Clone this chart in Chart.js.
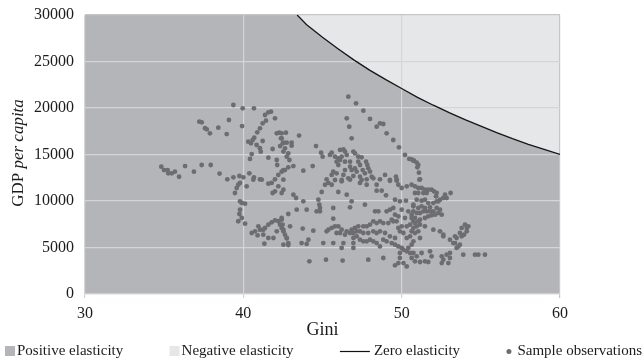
<!DOCTYPE html>
<html><head><meta charset="utf-8">
<script src="https://cdn.jsdelivr.net/npm/chart.js@4.4.0/dist/chart.umd.min.js"></script>
<style>html,body{margin:0;padding:0;background:#fff;overflow:hidden;}</style>
</head><body>
<canvas id="c" width="644" height="361" style="display:block;width:644px;height:361px"></canvas>
<script>
// ---- data ----
const xTickValues = [30, 40, 50, 60];
const xTickLabels = ['30', '40', '50', '60'];
const yTickValues = [0, 5000, 10000, 15000, 20000, 25000, 30000];
const yTickLabels = ['0', '5000', '10000', '15000', '20000', '25000', '30000'];
const legendLabels = ['Positive elasticity', 'Negative elasticity', 'Zero elasticity', 'Sample observations'];
const xTitle = 'Gini';
const yTitleParts = ['GDP ', 'per capita'];

// zero-elasticity boundary (Gini, GDP per capita)
const curveGini = [43.4, 44, 45, 46, 47, 48, 49, 50, 51, 52, 53, 54, 55, 56, 57, 58, 59, 60];
const curveGdp  = [30000, 28950, 27600, 26350, 25150, 24050, 23050, 22100, 21150, 20300, 19500, 18750, 18050, 17350, 16700, 16100, 15550, 15000];

// sample observations [Gini, GDP per capita]
const sampleObservations = [
[34.82,13690],[34.99,13330],[35.22,13330],[35.26,12980],[35.48,12980],[35.68,13150],[35.94,12610],[36.32,13760],
[36.88,13150],[37.37,13870],[37.94,13870],[38.50,12950],[37.22,18530],[37.37,18460],[37.58,17820],[37.69,17710],
[37.89,17280],[38.42,17880],[39.37,20320],[39.96,19970],[40.67,19970],[39.09,18710],[38.95,17200],[39.92,18060],
[41.37,19250],[41.58,19540],[41.75,19600],[42.00,18890],[41.43,18640],[41.22,18350],[41.05,17810],[40.88,17380],
[40.69,16810],[40.59,16560],[40.31,16380],[40.48,16200],[40.84,16020],[41.05,15670],[41.22,16450],[41.10,15300],
[40.53,15050],[40.42,14520],[41.58,14660],[41.85,15590],[42.11,17280],[42.27,17350],[42.38,16740],[42.49,16200],
[42.32,15910],[42.11,14410],[42.14,13870],
[38.99,12330],[39.37,12550],[39.75,12690],[40.00,12550],[40.38,12980],[40.67,12550],[41.05,12330],[42.00,12330],
[42.21,12800],[42.42,13150],[42.63,13330],
[39.47,10860],[39.58,11400],[39.68,11750],[39.79,11940],[40.21,11580],[39.79,9970],[39.90,9790],[40.11,9710],
[39.79,9070],[39.75,8600],[39.68,7820],[40.11,7560],[39.90,8170],[40.53,6560],[40.74,6740],[40.95,7280],
[41.05,6910],[41.26,6910],[41.37,7100],[41.58,7450],[41.79,7710],[42.00,7920],[42.21,7820],[42.32,7450],
[42.42,7100],[42.53,6740],[40.90,6310],[41.26,6380],[41.58,6020],[41.90,6020],[41.33,5410],[42.11,6740],
[42.42,8170],[40.63,12290],[41.16,12290],[41.58,11860],[41.79,11940],[42.21,11580],[42.00,11040],[41.85,10860],
[42.42,10860],[42.53,11220],[42.84,5270],[42.74,5990],
[44.74,10140],[44.80,9600],[44.84,9250],[44.84,8890],[44.63,8890],[44.00,9070],[43.37,9070],[42.84,8600],
[45.68,9250],[46.84,9960],[46.74,9320],[47.68,9600],[48.32,8890],[48.53,8890],[49.05,8890],[49.26,9070],
[49.47,9250],[49.58,8530],[49.79,8350],[49.68,7810],[49.47,7810],[49.37,7990],[49.16,7630],[48.84,7630],
[48.63,7810],[48.42,7630],[48.21,7810],[48.00,7460],[47.79,7280],[47.58,7280],[47.26,7280],[47.05,7100],
[46.84,6920],[46.53,6740],[46.21,6920],[46.00,7280],[45.79,7280],[45.58,7100],[45.37,6920],[45.26,6740],
[45.68,8100],[44.42,6810],[43.75,7030],[42.95,7280],[42.42,7990],[42.48,7460],[42.53,6920],[42.63,6380],
[42.74,6020],[42.84,5480],[42.53,5300],[43.68,5480],[44.00,5380],[44.11,5840],[45.05,5480],[45.68,5480],
[46.32,5480],[46.21,4950],[46.95,6560],[46.95,6020],[46.95,5480],[46.95,4950],[47.16,6200],[47.37,5840],
[47.58,5660],[47.79,5660],[48.00,5840],[48.21,5660],[48.42,5480],[48.63,5120],[48.84,5840],[49.05,5660],
[49.37,5480],[49.58,5300],[49.79,5120],[50.00,4950],[50.11,4770],[50.32,4590],[50.42,4950],[50.63,5300],
[50.74,5660],[50.32,6020],[49.89,6740],[50.11,6560],[49.58,6020],[49.26,6200],[48.95,6560],[48.63,6740],
[48.42,6560],[48.21,6740],[47.89,6560],[47.58,6560],[47.37,6740],[47.16,6740],[46.74,6560],[46.42,6380],
[46.11,6560],[45.89,6560],[50.32,7280],[50.53,7460],[50.74,7810],[50.63,8530],[50.42,8890],[50.00,9070],
[49.79,7100],[50.00,7280],[50.21,8170],[49.89,3870],[50.11,3330],[49.79,3330],[49.58,3080],[50.32,2970],
[49.89,4410],[48.84,3870],[47.89,3690],[46.27,3590],[45.22,3690],[44.17,3510],
[42.53,12290],[43.16,10680],[43.33,10320],[43.79,9970],[44.95,10970],[45.16,11750],[45.37,11940],[45.58,11750],
[46.21,12120],[46.00,10970],[46.53,10680],[46.74,12290],[47.37,11940],[47.79,11750],[48.42,11750],[48.42,11110],
[48.74,11110],[49.26,12180],[49.69,12290],[49.79,11750],[50.00,11400],[50.32,11580],[50.63,11750],[49.01,10610],
[49.58,10140],[49.89,9970],[50.27,10030],[50.74,9600],
[46.63,21220],[47.12,20500],[47.58,19710],[48.00,18820],[48.42,17990],[48.63,18350],[48.84,18280],[49.05,17280],
[49.47,16560],[49.83,15770],[50.21,14950],[50.48,14520],[50.74,14340],[46.53,18890],[46.69,17990],[46.84,16740],
[43.52,17030],[42.69,17350],[42.42,17280],[42.42,16740],[42.74,16270],[42.53,16270],[43.05,16270],[43.05,15950],
[42.63,15660],[42.84,15130],[42.74,14770],[42.53,15310],[42.91,14410],[44.59,15910],[44.91,15200],[45.01,14770],
[45.47,14950],[45.58,15200],[45.79,14770],[45.89,14230],[46.11,15490],[46.32,15560],[46.42,15310],[46.21,14770],
[46.00,14590],[46.11,14410],[46.53,14950],[46.74,14230],[46.95,15310],[47.05,15130],[47.26,14770],[47.47,14700],
[47.26,14230],[47.37,13870],[47.75,14230],[47.83,13870],[47.89,13510],[48.00,13160],[48.11,12620],[46.74,13690],
[46.84,13330],[47.05,13510],[47.16,13160],[47.54,13330],[47.68,12980],[45.68,13160],[45.58,12800],[45.26,12330],
[45.79,12260],[46.21,12260],[46.63,12440],[46.95,12690],[47.37,12620],[47.47,12260],[47.79,12330],[48.21,12440],
[48.63,12330],[49.26,12260],[49.64,12620],[49.68,12190],[48.95,12800],[43.16,13760],[42.84,13620],[42.53,13330],
[43.79,13260],[44.38,13760],[46.32,12800],[46.42,13330],[46.42,14230],[46.00,13870],[45.89,12980],
[50.63,14480],[50.78,14340],[50.95,14120],[51.05,13870],[50.99,13620],[51.09,13050],[51.16,12330],
[51.12,12290],[50.84,11580],[51.05,11400],[51.26,11400],[51.47,11220],[51.68,11220],[51.89,11220],[52.04,11040],
[52.21,10860],[52.17,10500],[52.32,9960],[52.42,10140],[52.63,10320],[52.74,10680],[52.84,10320],[53.09,10860],
[50.84,10860],[51.05,10860],[51.37,10860],[51.58,10860],[50.95,10140],[51.26,10040],[51.47,10140],[51.68,9780],
[52.00,9780],[52.21,9960],[50.74,9430],[51.05,9250],[51.26,9430],[51.47,9250],[51.79,9320],[52.21,9250],
[52.42,9070],[52.53,8530],[52.32,8710],[50.74,8890],[50.95,8710],[51.16,8710],[51.37,8890],[51.58,8890],
[51.79,8890],[52.00,8890],[52.11,8530],[50.63,8170],[50.84,8170],[51.16,7990],[51.47,8170],[51.68,8350],
[51.89,8460],[50.84,7630],[51.05,7810],[50.74,7100],[50.95,7280],[51.16,7460],[50.63,6740],[50.84,6560],
[51.05,6740],[51.16,6020],[50.53,6200],[51.47,7280],[52.00,6920],[52.42,6740],[52.63,6380],[52.63,6200],
[53.05,5840],[53.26,5480],[53.47,6020],[53.37,5480],[53.47,4950],[53.68,5300],[53.79,6200],[53.68,6560],
[53.79,7100],[54.00,7460],[54.21,7280],[54.11,6740],[53.94,6380],[53.58,5120],[53.37,6200],[54.11,7100],
[53.89,4230],[54.63,4230],[54.84,4230],[55.26,4230],[50.53,4410],[50.74,4410],[50.95,4050],[51.26,4410],
[51.79,4590],[51.89,4050],[51.47,3510],[51.16,3440],[50.84,3510],[50.63,3870],[51.68,3440],[52.53,4050],
[52.63,3690],[52.84,4230],[53.05,3870],[52.95,3330],[52.53,3330],[53.05,4410]
];

// ---- styles ----
const FONT = '"Liberation Serif", "Times New Roman", serif';
const DARK_FILL = '#b4b5b8';
const LIGHT_FILL = '#e6e7e9';
const GRID = '#d5d5d7';
const EDGE = '#c6c6c8';
const POINT = '#6d6d70';
const TEXT = '#1c1c1c';

const curveData = curveGini.map((g, i) => ({x: g, y: curveGdp[i]}));
const positiveData = [{x: xTickValues[0], y: yTickValues[yTickValues.length - 1]}].concat(curveData);
const negativeData = [{x: xTickValues[0], y: yTickValues[yTickValues.length - 1]},
                      {x: xTickValues[xTickValues.length - 1], y: yTickValues[yTickValues.length - 1]}];
const sampleData = sampleObservations.map(p => ({x: p[0], y: p[1]}));

const yTitlePlugin = {
  id: 'yTitle',
  afterDraw(chart) {
    const ctx = chart.ctx;
    ctx.save();
    const fUp = '17px ' + FONT, fIt = 'italic 17px ' + FONT;
    ctx.font = fUp; const w1 = ctx.measureText(yTitleParts[0]).width;
    ctx.font = fIt; const w2 = ctx.measureText(yTitleParts[1]).width;
    const cy = 153;
    ctx.translate(23, cy);
    ctx.rotate(-Math.PI / 2);
    ctx.fillStyle = TEXT;
    ctx.textBaseline = 'alphabetic';
    ctx.textAlign = 'left';
    const start = -(w1 + w2) / 2;
    ctx.font = fUp; ctx.fillText(yTitleParts[0], start, 0);
    ctx.font = fIt; ctx.fillText(yTitleParts[1], start + w1, 0);
    ctx.restore();
  }
};

const legendPlugin = {
  id: 'bottomLegend',
  afterDraw(chart) {
    const ctx = chart.ctx;
    ctx.save();
    ctx.font = '15px ' + FONT;
    const items = [
      {kind: 'box', color: DARK_FILL, w: 10, gap: 2},
      {kind: 'box', color: LIGHT_FILL, w: 10, gap: 2},
      {kind: 'line', color: '#111', w: 30, gap: 4},
      {kind: 'dot', color: POINT, w: 5, gap: 6}
    ];
    const widths = items.map((it, i) => it.w + it.gap + ctx.measureText(legendLabels[i]).width);
    const total = widths.reduce((a, b) => a + b, 0);
    const left = 5, right = 642;
    const spacing = (right - left - total) / (items.length - 1);
    const base = 355, mid = 351.5;
    let x = left;
    items.forEach((it, i) => {
      if (it.kind === 'box') {
        ctx.fillStyle = it.color;
        ctx.fillRect(x, 346, it.w, 10);
      } else if (it.kind === 'line') {
        ctx.strokeStyle = it.color; ctx.lineWidth = 1.2;
        ctx.beginPath(); ctx.moveTo(x, mid); ctx.lineTo(x + it.w, mid); ctx.stroke();
      } else {
        ctx.fillStyle = it.color;
        ctx.beginPath(); ctx.arc(x + 2.5, mid, 2.5, 0, Math.PI * 2); ctx.fill();
      }
      ctx.fillStyle = TEXT;
      ctx.textBaseline = 'alphabetic';
      ctx.textAlign = 'left';
      ctx.fillText(legendLabels[i], x + it.w + it.gap, base);
      x += widths[i] + spacing;
    });
    ctx.restore();
  }
};

new Chart(document.getElementById('c'), {
  type: 'scatter',
  data: {
    datasets: [
      {type: 'line', label: legendLabels[0], data: positiveData, fill: 'origin', backgroundColor: DARK_FILL,
       borderWidth: 0, pointRadius: 0, tension: 0},
      {type: 'line', label: legendLabels[1], data: negativeData, fill: 'origin', backgroundColor: LIGHT_FILL,
       borderWidth: 0, pointRadius: 0, tension: 0},
      {type: 'line', label: legendLabels[2], data: curveData, fill: false, borderColor: '#151515',
       borderWidth: 1.3, pointRadius: 0, tension: 0},
      {type: 'scatter', label: legendLabels[3], data: sampleData, backgroundColor: POINT,
       borderWidth: 0, pointRadius: 2.4}
    ]
  },
  options: {
    responsive: false,
    animation: false,
    devicePixelRatio: 1,
    events: [],
    layout: {padding: {left: 0, right: 84, top: 15, bottom: 20}},
    plugins: {
      legend: {display: false},
      tooltip: {enabled: false},
      filler: {drawTime: 'beforeDraw'}
    },
    scales: {
      x: {
        type: 'linear', min: xTickValues[0], max: xTickValues[xTickValues.length - 1],
        ticks: {stepSize: 10, padding: 6, maxRotation: 0, color: TEXT, font: {family: FONT, size: 16},
                callback: v => { const i = xTickValues.indexOf(v); return i >= 0 ? xTickLabels[i] : ''; }},
        grid: {color: ctx => (ctx.tick && ctx.tick.value === 60) ? EDGE : GRID, tickLength: 4, drawTicks: true, lineWidth: 1.2},
        border: {display: true, color: '#cfcfd1', width: 1.2},
        title: {display: true, text: xTitle, color: TEXT, font: {family: FONT, size: 18}, padding: {top: 0, bottom: 0}},
        afterFit: s => { s.height = 47; }
      },
      y: {
        type: 'linear', min: yTickValues[0], max: yTickValues[yTickValues.length - 1],
        ticks: {stepSize: 5000, padding: 4, color: TEXT, font: {family: FONT, size: 16},
                callback: v => { const i = yTickValues.indexOf(v); return i >= 0 ? yTickLabels[i] : ''; }},
        grid: {color: ctx => (ctx.tick && ctx.tick.value === 30000) ? EDGE : GRID, drawTicks: true, tickLength: 7,
               tickColor: 'rgba(0,0,0,0)', lineWidth: 1.2},
        border: {display: false},
        afterFit: s => { s.width = 85; }
      }
    }
  },
  plugins: [yTitlePlugin, legendPlugin]
});
</script>
</body></html>
